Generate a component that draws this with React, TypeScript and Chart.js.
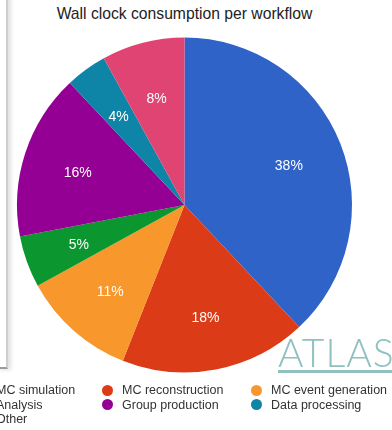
import React, { useEffect, useRef } from "react";
import { Chart, registerables } from "chart.js";

Chart.register(...registerables);

const categories = [
  "MC simulation",
  "MC reconstruction",
  "MC event generation",
  "Analysis",
  "Group production",
  "Data processing",
  "Other",
];
const shares = [38, 18, 11, 5, 16, 4, 8];
const colors = ["#2f63c8", "#dc3b17", "#f8972b", "#0b9630", "#930093", "#0e84a6", "#df4473"];
const title = "Wall clock consumption per workflow";

const legendCols = [-19, 107, 256];
const legendRows = [390, 404.5, 419];

const labelPlugin = {
  id: "sliceLabels",
  afterDatasetsDraw(chart: any) {
    const ctx = chart.ctx;
    const meta = chart.getDatasetMeta(0);
    ctx.save();
    ctx.fillStyle = "#ffffff";
    ctx.font = "14px 'Liberation Sans', Arial, sans-serif";
    ctx.textAlign = "center";
    ctx.textBaseline = "middle";
    meta.data.forEach((arc: any, i: number) => {
      const p = arc.getProps(["x", "y", "startAngle", "endAngle", "outerRadius"], true);
      const mid = (p.startAngle + p.endAngle) / 2;
      const r = p.outerRadius * 0.67;
      ctx.fillText(shares[i] + "%", p.x + Math.cos(mid) * r, p.y + Math.sin(mid) * r + 2.5);
    });
    ctx.restore();
  },
};

export default function App() {
  const ref = useRef<HTMLCanvasElement>(null);
  useEffect(() => {
    if (!ref.current) return;
    const chart = new Chart(ref.current, {
      type: "pie",
      data: {
        labels: categories,
        datasets: [
          {
            data: shares,
            backgroundColor: colors,
            borderWidth: 0,
          },
        ],
      },
      options: {
        animation: false,
        responsive: false,
        devicePixelRatio: 1,
        layout: { padding: { left: 17, right: 40, top: 37.5, bottom: 57.5 } },
        plugins: {
          legend: { display: false },
          tooltip: { enabled: false },
          title: { display: false },
        },
      },
      plugins: [labelPlugin],
    });
    return () => chart.destroy();
  }, []);

  return (
    <div
      style={{
        position: "fixed",
        left: 0,
        top: 0,
        width: 392,
        height: 430,
        overflow: "hidden",
        background: "#ffffff",
        fontFamily: "'Liberation Sans', Arial, sans-serif",
      }}
    >
      <div
        style={{
          position: "absolute",
          left: -4,
          top: -4,
          width: 10,
          height: 371,
          borderRight: "2px solid #cfcfcf",
          borderBottom: "2px solid #9a9a9a",
          boxShadow: "3px 1px 4px rgba(0,0,0,0.12)",
        }}
      />
      <div
        style={{
          position: "absolute",
          left: 0,
          width: 369,
          top: 5,
          textAlign: "center",
          fontSize: 15.7,
          color: "#222",
          lineHeight: "18px",
          whiteSpace: "nowrap",
        }}
      >
        {title}
      </div>
      <canvas ref={ref} width={392} height={430} style={{ position: "absolute", left: 0, top: 0 }} />
      <div
        style={{
          position: "absolute",
          left: 278,
          top: 330,
          fontFamily: "Lato, 'Open Sans', sans-serif",
          fontWeight: 300,
          fontSize: 39,
          lineHeight: "44px",
          letterSpacing: 1,
          color: "#8fc1c1",
          whiteSpace: "nowrap",
        }}
      >
        ATLAS
      </div>
      <div
        style={{
          position: "absolute",
          left: 278,
          top: 370,
          width: 120,
          height: 3,
          background: "#8fc1c1",
        }}
      />
      {categories.map((c, i) => {
        const col = i % 3;
        const row = Math.floor(i / 3);
        const cx = legendCols[col];
        const cy = legendRows[row];
        return (
          <React.Fragment key={c}>
            <div
              style={{
                position: "absolute",
                left: cx - 5.5,
                top: cy - 5.5,
                width: 11,
                height: 11,
                borderRadius: "50%",
                background: colors[i],
              }}
            />
            <div
              style={{
                position: "absolute",
                left: cx + 15,
                top: cy - 8,
                fontSize: 12.5,
                lineHeight: "16px",
                color: "#333",
                whiteSpace: "nowrap",
              }}
            >
              {c}
            </div>
          </React.Fragment>
        );
      })}
    </div>
  );
}
